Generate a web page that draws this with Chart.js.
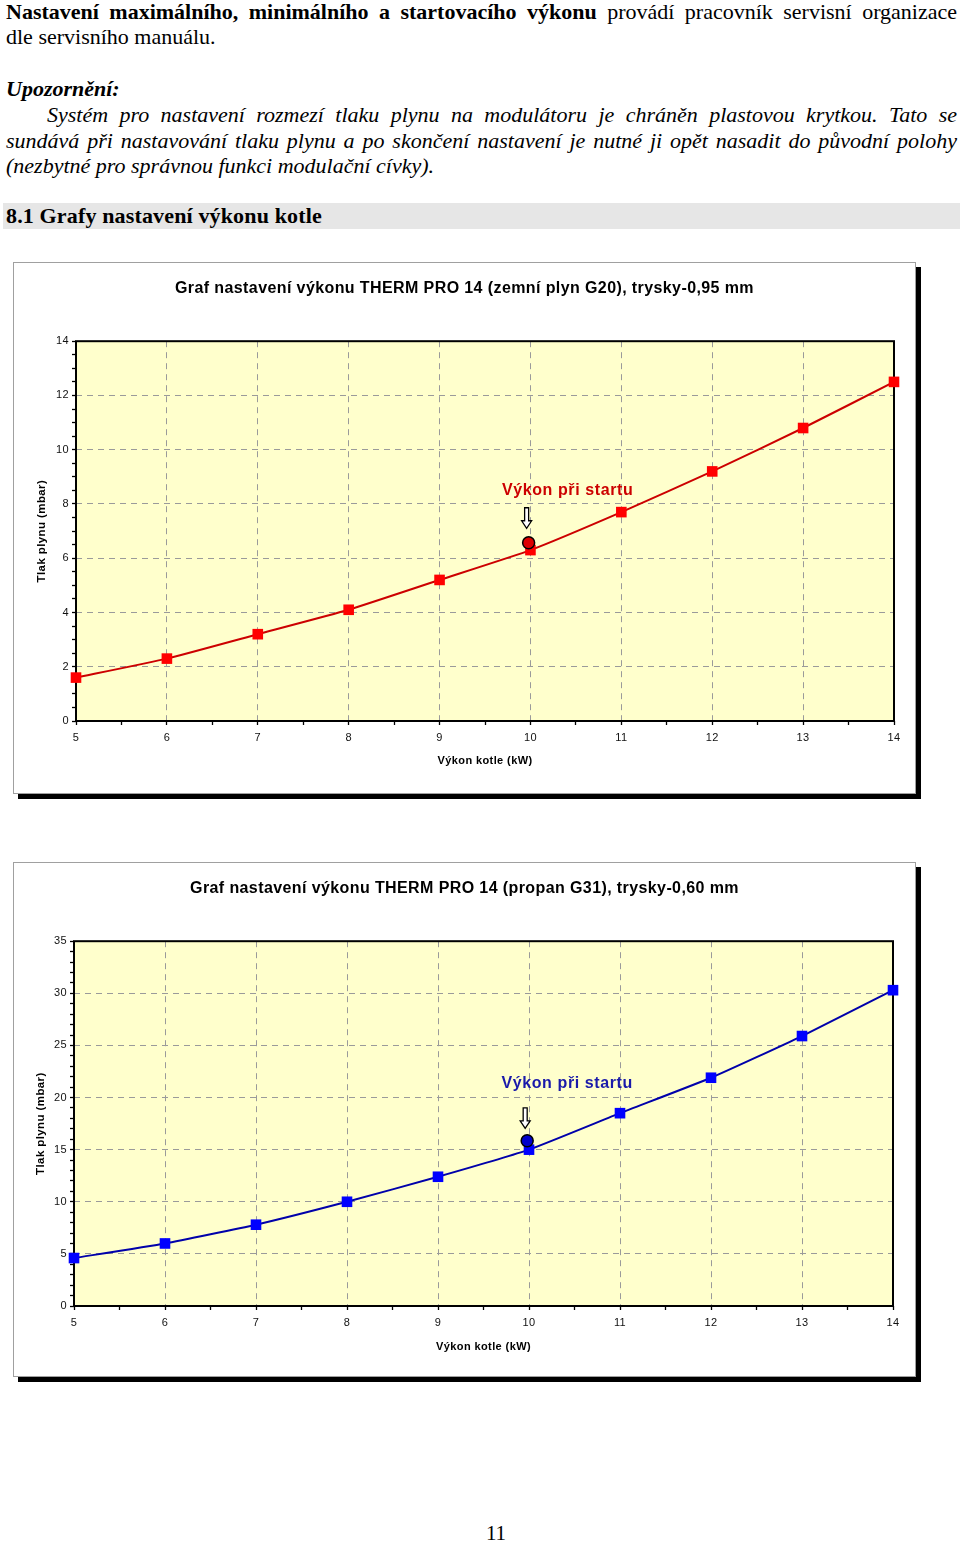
<!DOCTYPE html>
<html lang="cs">
<head>
<meta charset="utf-8">
<script src="https://cdn.jsdelivr.net/npm/chart.js"></script>
<style>
  body { margin: 0; background: #fff; width: 960px; height: 1541px; position: relative; font-family: "Liberation Serif", "Times New Roman", serif; color: #000; }
  .txt { position: absolute; left: 6px; width: 951px; font-size: 22px; }
  .j { text-align: justify; text-align-last: justify; }
  .box { position: absolute; left: 13px; width: 901px; border: 1px solid #a0a0a0; background: #fff; box-shadow: 5px 5px 0 #000; }
  .box canvas { display: block; }
</style>
</head>
<body>
<div class="txt" style="top:-1px; line-height:25px;">
  <div class="j"><b>Nastavení maximálního, minimálního a startovacího výkonu</b> provádí pracovník servisní organizace</div>
  <div>dle servisního manuálu.</div>
</div>
<div class="txt" style="top:76px; line-height:25px;"><b><i>Upozornění:</i></b></div>
<div class="txt" style="top:102px; line-height:25.5px; font-style:italic;">
  <div class="j" style="padding-left:41px;">Systém pro nastavení rozmezí tlaku plynu na modulátoru je chráněn plastovou krytkou. Tato se</div>
  <div class="j">sundává při nastavování tlaku plynu a po skončení nastavení je nutné ji opět nasadit do původní polohy</div>
  <div>(nezbytné pro správnou funkci modulační cívky).</div>
</div>
<div style="position:absolute; left:3px; top:203px; width:957px; height:26px; background:#e6e6e6;"></div>
<div class="txt" style="top:203px; line-height:26px; font-weight:bold; letter-spacing:0.15px;">8.1 Grafy nastavení výkonu kotle</div>

<div class="box" style="top:262px; height:530px;"><canvas id="g20" width="901" height="530"></canvas></div>
<div class="box" style="top:862px; height:513px;"><canvas id="g31" width="901" height="513"></canvas></div>

<div style="position:absolute; left:446px; width:100px; top:1520px; line-height:26px; font-size:21px; text-align:center;">11</div>

<script>
// hodnoty odečtené z grafů
const powerKw = [5, 6, 7, 8, 9, 10, 11, 12, 13, 14];
const pressureG20 = [1.6, 2.3, 3.2, 4.1, 5.2, 6.3, 7.7, 9.2, 10.8, 12.5];
const pressureG31 = [4.6, 6.0, 7.8, 10.0, 12.4, 15.0, 18.5, 21.9, 25.9, 30.3];
const startG20 = [9.98, 6.57];
const startG31 = [9.98, 15.85];
const startLabel = 'Výkon při startu';
const titleG20 = 'Graf nastavení výkonu THERM PRO 14 (zemní plyn G20), trysky-0,95 mm';
const titleG31 = 'Graf nastavení výkonu THERM PRO 14 (propan G31), trysky-0,60 mm';
const yTitle = 'Tlak plynu (mbar)';
const xTitle = 'Výkon kotle (kW)';

Chart.defaults.font.family = '"Liberation Sans", Arial, sans-serif';
Chart.defaults.color = '#000';

const plotBg = {
  id: 'plotBg',
  beforeDraw(chart) {
    const a = chart.chartArea;
    chart.ctx.letterSpacing = '0.4px'; // text in the original is a bit spaced out
    chart.ctx.fillStyle = '#ffffcc';
    chart.ctx.fillRect(a.left, a.top, a.right - a.left, a.bottom - a.top);
  },
  beforeDatasetsDraw(chart) {
    const a = chart.chartArea, ctx = chart.ctx;
    ctx.save();
    ctx.strokeStyle = '#000';
    ctx.lineWidth = 2;
    ctx.strokeRect(a.left, a.top, a.right - a.left, a.bottom - a.top);
    ctx.restore();
  }
};

const startNote = {
  id: 'startNote',
  afterDraw(chart, args, o) {
    const ctx = chart.ctx;
    const px = chart.scales.x.getPixelForValue(o.at[0]);
    const py = chart.scales.y.getPixelForValue(o.at[1]);
    const ax = px - 2, ay = py + o.arrowDy;
    ctx.save();
    ctx.beginPath();
    ctx.moveTo(ax - 2, ay - 10);
    ctx.lineTo(ax + 2, ay - 10);
    ctx.lineTo(ax + 2, ay + 3);
    ctx.lineTo(ax + 5, ay + 3);
    ctx.lineTo(ax, ay + 10.5);
    ctx.lineTo(ax - 5, ay + 3);
    ctx.lineTo(ax - 2, ay + 3);
    ctx.closePath();
    ctx.fillStyle = '#fff';
    ctx.fill();
    ctx.strokeStyle = '#000';
    ctx.lineWidth = 1.3;
    ctx.stroke();
    ctx.font = 'bold 16px "Liberation Sans", Arial, sans-serif';
    ctx.letterSpacing = '0.6px';
    ctx.fillStyle = o.color;
    ctx.textAlign = 'center';
    ctx.textBaseline = 'middle';
    ctx.fillText(o.text, px + o.textDx, py + o.textDy);
    ctx.restore();
  }
};

const makeChart = (id, s) => {
  const pts = powerKw.map((x, i) => ({x: x, y: s.values[i]}));
  return new Chart(document.getElementById(id), {
    type: 'line',
    data: {
      datasets: [{
        data: [{x: s.start[0], y: s.start[1]}],
        showLine: false,
        pointStyle: 'circle',
        pointRadius: 6,
        pointBackgroundColor: s.circle,
        pointBorderColor: '#000',
        pointBorderWidth: 1.5,
        clip: false
      }, {
        data: pts,
        borderColor: s.line,
        borderWidth: 2,
        tension: 0.15,
        pointStyle: 'rect',
        pointRadius: 7.5,
        pointBorderWidth: 0,
        pointBackgroundColor: s.marker,
        pointBorderColor: s.marker,
        clip: false
      }]
    },
    options: {
      responsive: false,
      animation: false,
      events: [],
      plugins: {
        legend: {display: false},
        tooltip: {enabled: false},
        title: {
          display: true,
          text: s.title,
          font: {size: 16, weight: 'bold'},
          padding: {top: 16, bottom: 43}
        },
        startNote: {at: s.start, text: startLabel, color: s.note, arrowDy: s.arrowDy, textDx: s.textDx, textDy: s.textDy}
      },
      scales: {
        x: {
          type: 'linear',
          min: 5, max: 14,
          ticks: {
            stepSize: 0.5, autoSkip: false, maxRotation: 0, padding: 6,
            font: {size: 11}, color: '#111',
            callback: v => Number.isInteger(v) ? v : ''
          },
          grid: {
            color: c => (c.tick && Number.isInteger(c.tick.value)) ? '#9a9a9a' : 'rgba(0,0,0,0)',
            tickColor: '#000', tickLength: 4, tickWidth: 1.3
          },
          border: {display: false, dash: [6, 5]},
          title: {display: true, text: xTitle, font: {size: 11, weight: 'bold'}, padding: {top: 4, bottom: s.xTitlePad}},
          afterFit: sc => { sc.height = s.xHeight; }
        },
        y: {
          min: 0, max: s.yMax,
          ticks: {
            stepSize: s.yStep, autoSkip: false, padding: 3,
            font: {size: 11}, color: '#111',
            callback: v => (v % s.yMajor === 0) ? v : ''
          },
          grid: {
            color: c => (c.tick && c.tick.value % s.yMajor === 0) ? '#9a9a9a' : 'rgba(0,0,0,0)',
            tickColor: '#000', tickLength: 4, tickWidth: 1.3
          },
          border: {display: false, dash: [6, 5]},
          title: {display: true, text: yTitle, font: {size: 11.5, weight: 'bold'}, padding: {top: s.yTitlePad, bottom: 0}},
          afterFit: sc => { sc.width = s.yWidth; }
        },
        y2: {
          position: 'right',
          display: true,
          grid: {display: false, drawTicks: false},
          border: {display: false},
          ticks: {display: false},
          afterFit: sc => { sc.width = s.rightWidth; }
        }
      }
    },
    plugins: [plotBg, startNote]
  });
};

makeChart('g20', {
  title: titleG20, values: pressureG20, start: startG20,
  line: '#cc0000', marker: '#ff0000', circle: '#dd0000', note: '#cc0000',
  yMax: 14, yStep: 0.5, yMajor: 2,
  yWidth: 62, rightWidth: 21, xHeight: 72, yTitlePad: 21, xTitlePad: 25,
  arrowDy: -25, textDx: 39, textDy: -52
});

makeChart('g31', {
  title: titleG31, values: pressureG31, start: startG31,
  line: '#0000aa', marker: '#0000ff', circle: '#0000cc', note: '#1a1aaa',
  yMax: 35, yStep: 1, yMajor: 5,
  yWidth: 60, rightWidth: 22, xHeight: 70, yTitlePad: 20, xTitlePad: 22,
  arrowDy: -23, textDx: 40, textDy: -57
});
</script>
</body>
</html>
